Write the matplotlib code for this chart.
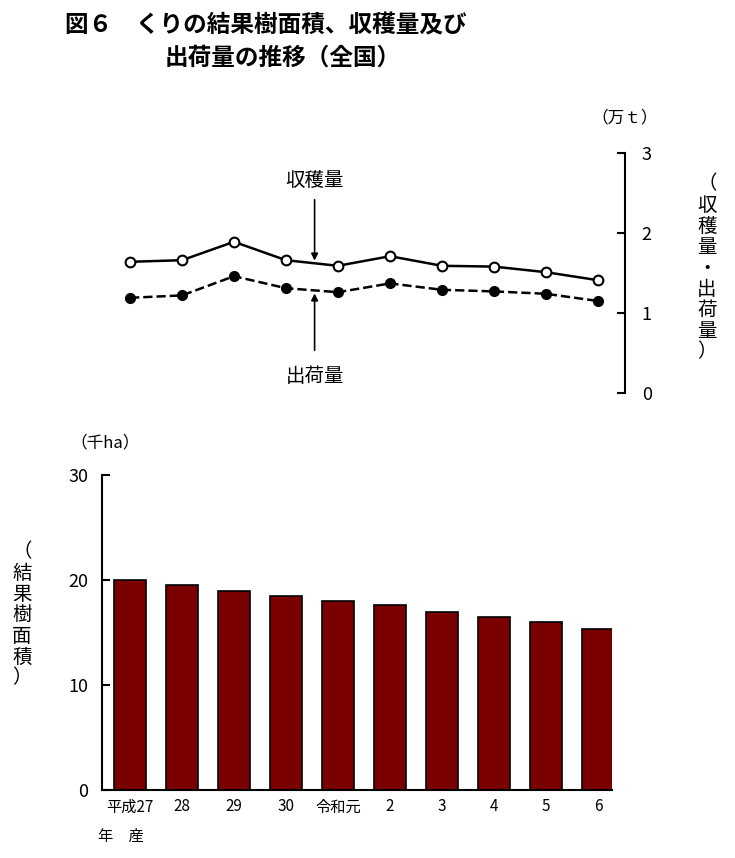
import matplotlib
matplotlib.use("Agg")
import matplotlib.pyplot as plt

plt.rcParams["font.family"] = ["Noto Sans CJK JP"]

categories = ["平成27", "28", "29", "30", "令和元", "2", "3", "4", "5", "6"]
harvest = [1.64, 1.66, 1.89, 1.66, 1.59, 1.71, 1.59, 1.58, 1.51, 1.41]
shipment = [1.19, 1.22, 1.46, 1.31, 1.26, 1.37, 1.29, 1.27, 1.24, 1.15]
area = [20.0, 19.5, 18.95, 18.5, 18.0, 17.6, 16.95, 16.5, 16.0, 15.3]

W, H = 735, 858
fig = plt.figure(figsize=(W/100, H/100), dpi=100)
x = list(range(len(categories)))

def fx(p): return p / W
def fy(p): return 1 - p / H

fig.text(fx(65), fy(25), "図６　くりの結果樹面積、収穫量及び", fontsize=17, fontweight="bold", va="center")
fig.text(fx(165), fy(58), "出荷量の推移（全国）", fontsize=17, fontweight="bold", va="center")

# top axes
ax1 = fig.add_axes([fx(102), fy(393), (625-102)/W, 240/H])
ax1.set_xlim(-28/52, (625-130)/52)
ax1.set_ylim(0, 3)
for s in ["top", "left", "bottom"]:
    ax1.spines[s].set_visible(False)
ax1.spines["right"].set_linewidth(1.5)
ax1.yaxis.tick_right()
ax1.tick_params(axis="y", direction="in", length=6, width=1.5, labelsize=13, pad=12)
ax1.set_yticks([0, 1, 2, 3])
ax1.set_xticks([])
ax1.plot(x, harvest, "-o", color="black", lw=1.8, ms=7, mfc="white", mew=1.5)
ax1.plot(x, shipment, "--o", color="black", lw=1.8, ms=7, mfc="black")
ax1.annotate("", xy=(3.55, 1.62), xytext=(3.55, 2.45),
             arrowprops=dict(arrowstyle="-|>", color="black", lw=1.2))
ax1.text(3.55, 2.65, "収穫量", ha="center", va="center", fontsize=14)
ax1.annotate("", xy=(3.55, 1.28), xytext=(3.55, 0.5),
             arrowprops=dict(arrowstyle="-|>", color="black", lw=1.2))
ax1.text(3.55, 0.2, "出荷量", ha="center", va="center", fontsize=14)
fig.text(fx(625), fy(118), "（万ｔ）", fontsize=12, ha="center", va="center")
fig.text(fx(707), fy(268), "（\n収\n穫\n量\n・\n出\n荷\n量\n）", fontsize=14,
         ha="center", va="center", linespacing=1.0, rotation=0)

# bottom axes
ax2 = fig.add_axes([fx(102), fy(790), (612-102)/W, 315/H])
ax2.set_xlim(-28/52, (612-130)/52)
ax2.set_ylim(0, 30)
ax2.bar(x, area, width=0.62, color="#7a0000", edgecolor="black", lw=1.2)
for s in ["top", "right"]:
    ax2.spines[s].set_visible(False)
ax2.spines["left"].set_linewidth(1.5)
ax2.spines["bottom"].set_linewidth(1.5)
ax2.set_yticks([0, 10, 20, 30])
ax2.tick_params(axis="y", direction="in", length=6, width=1.5, labelsize=13, pad=10)
ax2.set_xticks(x)
ax2.set_xticklabels(categories, fontsize=11)
ax2.tick_params(axis="x", length=0, pad=6)
fig.text(fx(105), fy(443), "（千ha）", fontsize=12, ha="center", va="center")
fig.text(fx(22), fy(615), "（\n結\n果\n樹\n面\n積\n）", fontsize=14,
         ha="center", va="center", linespacing=1.0)
fig.text(fx(98), fy(836), "年　産", fontsize=11, ha="left", va="center")

fig.savefig("out.png", dpi=100)
